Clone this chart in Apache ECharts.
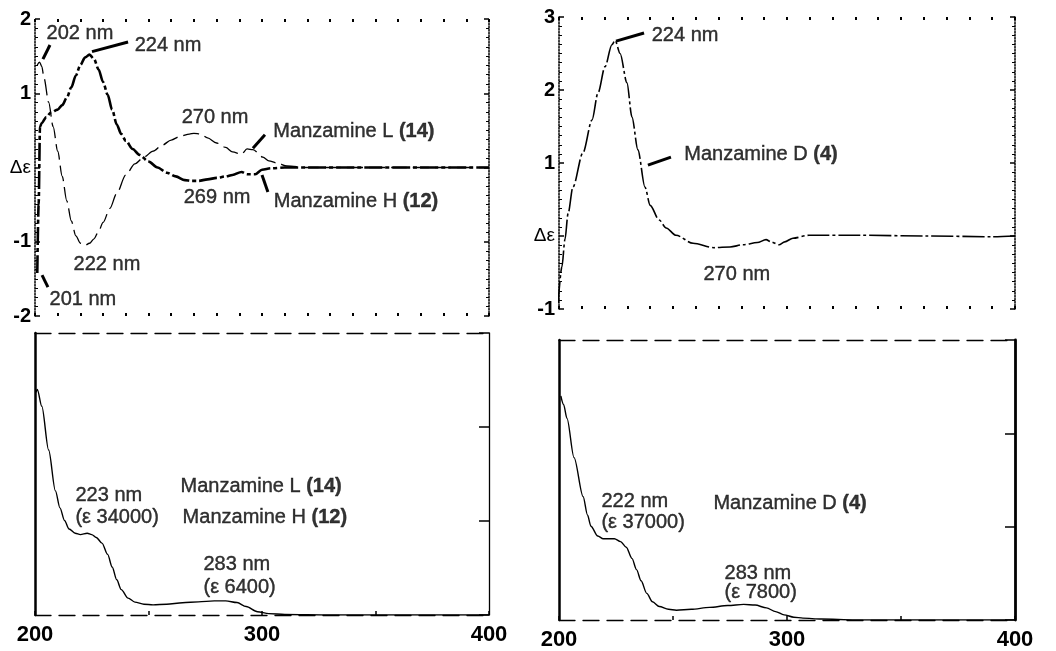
<!DOCTYPE html>
<html>
<head>
<meta charset="utf-8">
<title>Manzamine CD / UV spectra</title>
<script src="https://cdn.jsdelivr.net/npm/echarts@6/dist/echarts.min.js"></script>
<style>
  html, body { margin: 0; padding: 0; background: #fff; }
  #chart { width: 1056px; height: 651px; }
</style>
</head>
<body>
<div id="chart"></div>
<script>
// [wavelength nm, delta epsilon]
var cdManzL = [
  [201, 1.38], [202, 1.42], [203, 1.36], [204, 1.2], [206, 0.88], [208, 0.55], [210, 0.22],
  [212, -0.12], [214, -0.45], [216, -0.72], [218, -0.92], [220, -1.02], [222, -1.05],
  [224, -1.02], [226, -0.96], [228, -0.86], [230, -0.74], [233, -0.55], [236, -0.35],
  [240, -0.1], [244, 0.05], [248, 0.14], [252, 0.22], [256, 0.3], [260, 0.37], [264, 0.42],
  [268, 0.45], [270, 0.46], [273, 0.45], [276, 0.4], [280, 0.33], [284, 0.27], [287, 0.21],
  [291, 0.18], [293.4, 0.25], [296, 0.24], [300.4, 0.14], [303, 0.09], [306.6, 0.06],
  [311, 0.02], [320, 0], [360, 0], [400, 0]
];
var cdManzH = [
  [201, -1.42], [201.6, -0.5], [202.2, 0.55], [203, 0.6], [205, 0.68], [207, 0.74],
  [210, 0.78], [212, 0.84], [214, 0.94], [216, 1.08], [218, 1.24], [220, 1.38], [222, 1.48],
  [224, 1.52], [226, 1.46], [228, 1.32], [230, 1.15], [232, 0.98], [234, 0.78], [236, 0.58],
  [238, 0.45], [240, 0.36], [243, 0.25], [246, 0.17], [250, 0.08], [254, 0], [258, -0.07],
  [262, -0.12], [266, -0.17], [269, -0.18], [272, -0.18], [276, -0.16], [280, -0.14],
  [284, -0.12], [287, -0.1], [291, -0.06], [293.4, -0.09], [297, -0.09], [300, -0.03],
  [304, -0.01], [310, 0], [360, 0], [400, 0]
];
var cdManzD = [
  [199.6, -0.92], [201.3, -0.42], [202.6, -0.05], [204, 0.31], [206.1, 0.67], [210.5, 1.14],
  [214.5, 1.59], [217.1, 1.96], [220.2, 2.32], [223.2, 2.62], [224.6, 2.68], [226.8, 2.5],
  [229.8, 2.1], [232, 1.63], [234.6, 1.18], [237.7, 0.67], [240, 0.42], [243.9, 0.22],
  [247, 0.11], [251.3, 0.01], [258.8, -0.1], [268, -0.16], [275, -0.15], [280.7, -0.12],
  [287, -0.09], [290.8, -0.05], [293, -0.08], [296.5, -0.12], [299, -0.08], [302.6, -0.03],
  [309.6, 0.01], [331.6, 0.01], [361, 0], [390, -0.01], [400, 0]
];
// [wavelength nm, epsilon]
var uvManzLH = [
  [200.5, 94800], [201, 96000], [203, 88800], [206, 70200], [209, 52800], [211, 45600],
  [213, 40200], [215, 36600], [217.7, 34800], [220, 34200], [223, 34800], [225, 34200],
  [227, 33000], [229.5, 30600], [232, 25800], [234, 20400], [236, 15000], [238, 10800],
  [241, 7200], [244, 5500], [248, 4600], [252, 4300], [258, 4600], [265, 5200], [272, 5600],
  [279, 6000], [284, 6000], [289, 5300], [293, 3600], [298, 1400], [303, 600], [310, 240],
  [330, 0], [400, 0]
];
var uvManzD = [
  [200.8, 96000], [202, 92400], [203.5, 86400], [206.6, 69600], [210.6, 52800],
  [212.5, 45000], [214, 40200], [217, 36000], [219.4, 34800], [222, 34800], [224.3, 34800],
  [227, 33600], [229.5, 31200], [232, 26400], [234, 21600], [236, 16800], [238.5, 11400],
  [241, 7800], [244, 5800], [248, 4600], [251.5, 4200], [258, 4600], [266, 5400],
  [274, 6200], [281, 6700], [286, 6400], [291, 5200], [295, 3600], [298.7, 2200],
  [303, 1200], [307, 800], [315, 400], [330, 0], [400, 0]
];

var xTickLabels = [200, 300, 400];

// annotations: [nm, value, text]; leaders: [nm1, v1, nm2, v2]
var notesTL = [
  [219.8, 1.81, '202 nm'], [258.6, 1.65, '224 nm'], [279.3, 0.67, '270 nm'],
  [340.5, 0.48, 'Manzamine L {b|(14)}'], [280.2, -0.40, '269 nm'],
  [341.4, -0.46, 'Manzamine H {b|(12)}'], [231.7, -1.31, '222 nm'], [221.1, -1.78, '201 nm']
];
var leadersTL = [
  [203.5, 1.46, 206.6, 1.65], [225.1, 1.56, 241, 1.69], [296, 0.26, 301.3, 0.44],
  [300, -0.1, 302.6, -0.33], [203.1, -1.45, 205.7, -1.61]
];
var notesTR = [
  [255.3, 2.75, '224 nm'], [288.6, 1.11, 'Manzamine D {b|(4)}'], [278, -0.53, '270 nm']
];
var leadersTR = [[225, 2.67, 237.3, 2.78], [239, 0.97, 249.1, 1.08]];
var notesBL = [
  [217.6, 51000, '223 nm'], [217.6, 41300, '(ε 34000)'],
  [263.9, 54500, 'Manzamine L {b|(14)}'], [264.8, 41700, 'Manzamine H {b|(12)}'],
  [274, 21300, '283 nm'], [274, 11900, '(ε 6400)']
];
var notesBR = [
  [218.4, 50600, '222 nm'], [218.4, 41600, '(ε 37000)'],
  [267.5, 50100, 'Manzamine D {b|(4)}'], [272.4, 20100, '283 nm'], [272.4, 11600, '(ε 7800)']
];

var FONT = '"Liberation Sans", Arial, Helvetica, sans-serif';
var INK = '#000';

function cdAxisX(grid, pos) {
  return {
    type: 'value', gridIndex: grid, position: pos, min: 200, max: 400, interval: 10,
    axisLine: { show: false, onZero: false },
    axisTick: { show: true, inside: true, length: 3, lineStyle: { color: INK, width: 2 } },
    axisLabel: { show: false }, splitLine: { show: false }
  };
}

function uvAxisX(grid, pos, labels) {
  return {
    type: 'value', gridIndex: grid, position: pos, min: 200, max: 400, interval: 50,
    axisLine: { show: true, onZero: false, lineStyle: { color: INK, width: 1.3, type: [16, 8] } },
    axisTick: { show: labels, inside: true, length: 4, lineStyle: { color: INK, width: 1.5 } },
    axisLabel: {
      show: labels, margin: 9, color: INK, fontFamily: FONT, fontSize: 22, fontWeight: 'bold',
      formatter: function (v) { return xTickLabels.indexOf(v) >= 0 ? String(v) : ''; }
    },
    splitLine: { show: false }
  };
}

function cdAxisY(grid, pos, min, max, labels) {
  return {
    type: 'value', gridIndex: grid, position: pos, min: min, max: max, interval: 1,
    axisLine: { show: true, onZero: false, lineStyle: { color: INK, width: 1.5, type: 'dotted' } },
    axisTick: { show: true, inside: true, length: 5, lineStyle: { color: INK, width: 1.5 } },
    minorTick: { show: true, splitNumber: 8, length: 3, lineStyle: { color: INK, width: 1 } },
    axisLabel: {
      show: labels, margin: 4, color: INK, fontFamily: FONT,
      formatter: function (v) { return v === 0 ? '{d|Δε}' : '{n|' + v + '}'; },
      rich: {
        n: { fontFamily: FONT, fontSize: 20, fontWeight: 'bold', color: INK },
        d: { fontFamily: FONT, fontSize: 19, color: INK }
      }
    },
    splitLine: { show: false }
  };
}

function uvAxisY(grid, pos, width, ticks) {
  return {
    type: 'value', gridIndex: grid, position: pos, min: 0, max: 120000, interval: 40000,
    axisLine: { show: true, onZero: false, lineStyle: { color: INK, width: width } },
    axisTick: { show: ticks, inside: true, length: 10, lineStyle: { color: INK, width: 1.5 } },
    axisLabel: { show: false }, splitLine: { show: false }
  };
}

function trace(data, xi, yi, width, dash) {
  return {
    type: 'line', xAxisIndex: xi, yAxisIndex: yi, data: data,
    showSymbol: false, symbol: 'none', smooth: 0.3, smoothMonotone: 'x', silent: true,
    lineStyle: { color: INK, width: width, type: dash }
  };
}

function notes(items, xi, yi, pos, leaders) {
  var s = {
    type: 'scatter', xAxisIndex: xi, yAxisIndex: yi, symbolSize: 1, silent: true, z: 5,
    itemStyle: { color: 'rgba(0,0,0,0)' },
    data: items.map(function (n) { return { value: [n[0], n[1]], name: n[2] }; }),
    label: {
      show: true, position: pos, distance: 0, color: INK, fontFamily: FONT, fontSize: 20,
      textBorderColor: INK, textBorderWidth: 0.4,
      formatter: function (p) { return p.name; },
      rich: { b: { fontFamily: FONT, fontSize: 20, fontWeight: 'bold', color: INK } }
    }
  };
  if (leaders) {
    s.markLine = {
      silent: true, symbol: ['none', 'none'], label: { show: false },
      lineStyle: { color: INK, width: 3, type: 'solid' },
      data: leaders.map(function (l) { return [{ coord: [l[0], l[1]] }, { coord: [l[2], l[3]] }]; })
    };
  }
  return s;
}

var chart = echarts.init(document.getElementById('chart'), null, { renderer: 'canvas' });
chart.setOption({
  animation: false,
  backgroundColor: '#fff',
  grid: [
    { left: 35, top: 19, width: 454, height: 297 },
    { left: 559, top: 17, width: 456, height: 292 },
    { left: 35, top: 333, width: 454, height: 282 },
    { left: 559, top: 340, width: 456, height: 280 }
  ],
  xAxis: [
    cdAxisX(0, 'bottom'), cdAxisX(0, 'top'),
    cdAxisX(1, 'bottom'), cdAxisX(1, 'top'),
    uvAxisX(2, 'bottom', true), uvAxisX(2, 'top', false),
    uvAxisX(3, 'bottom', true), uvAxisX(3, 'top', false)
  ],
  yAxis: [
    cdAxisY(0, 'left', -2, 2, true), cdAxisY(0, 'right', -2, 2, false),
    cdAxisY(1, 'left', -1, 3, true), cdAxisY(1, 'right', -1, 3, false),
    uvAxisY(2, 'left', 2.5, false), uvAxisY(2, 'right', 1.3, true),
    uvAxisY(3, 'left', 2.5, false), uvAxisY(3, 'right', 2.8, true)
  ],
  series: [
    trace(cdManzL, 0, 0, 1.3, [16, 6]),
    trace(cdManzH, 0, 0, 2.6, [18, 3, 4, 3]),
    trace(cdManzD, 2, 2, 1.6, [22, 3, 3, 3]),
    trace(uvManzLH, 4, 4, 1.4, 'solid'),
    trace(uvManzD, 6, 6, 1.4, 'solid'),
    notes(notesTL, 0, 0, 'inside', leadersTL),
    notes(notesTR, 2, 2, 'inside', leadersTR),
    notes(notesBL, 4, 4, 'right', null),
    notes(notesBR, 6, 6, 'right', null)
  ]
});
</script>
</body>
</html>
